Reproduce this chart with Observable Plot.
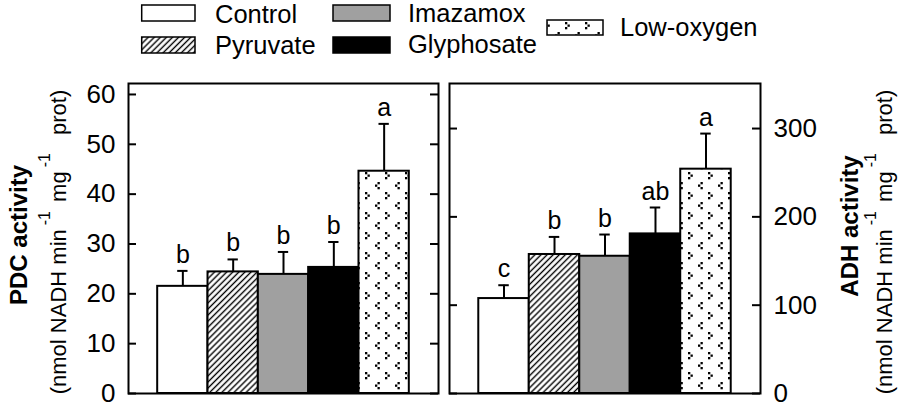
<!DOCTYPE html>
<html><head><meta charset="utf-8">
<script src="https://cdn.jsdelivr.net/npm/d3@7"></script>
<script src="https://cdn.jsdelivr.net/npm/@observablehq/plot@0.6"></script>
<style>
body{margin:0;background:#fff;}
#wrap{position:relative;width:898px;height:406px;overflow:hidden;font-family:"Liberation Sans",Arial,sans-serif;background:#fff;}
#wrap > svg{position:absolute;}
</style></head><body><div id="wrap"></div>
<script>
const categories = ["Control","Pyruvate","Imazamox","Glyphosate","Low-oxygen"];
const pdcMean = [21.5, 24.4, 23.9, 25.3, 44.6];
const pdcSE = [3.1, 2.5, 4.5, 5.1, 9.5];
const pdcLetters = ["b","b","b","b","a"];
const adhMean = [107.5, 157.4, 155.4, 180.7, 254];
const adhSE = [15.1, 19.9, 24.6, 29.9, 40.3];
const adhLetters = ["c","b","b","ab","a"];
const fills = ["white","url(#hatch)","#a0a0a0","black","url(#dots)"];
const pdcTicks = [0,10,20,30,40,50,60];
const adhTicks = [0,100,200,300];

const wrap = document.getElementById("wrap");
const FONT = '"Liberation Sans", Arial, sans-serif';

// pattern definitions
wrap.insertAdjacentHTML("beforeend", `<svg width="0" height="0" style="left:0;top:0"><defs>
<pattern id="hatch" patternUnits="userSpaceOnUse" width="4.3" height="10" patternTransform="rotate(45)">
<rect width="4.3" height="10" fill="white"/><line x1="2.15" y1="-1" x2="2.15" y2="11" stroke="black" stroke-width="1.4"/></pattern>
<pattern id="dots" patternUnits="userSpaceOnUse" width="20" height="20">
<rect width="20" height="20" fill="white"/>
<g fill="black">
<rect x="5" y="2" width="2.3" height="2.3"/><rect x="7.5" y="4.5" width="2.3" height="2.3"/><rect x="5" y="7" width="2.3" height="2.3"/>
<rect x="17.5" y="12" width="2.3" height="2.3"/><rect x="15" y="14.5" width="2.3" height="2.3"/><rect x="17.5" y="17" width="2.3" height="2.3"/>
</g></pattern></defs></svg>`);

function makeData(mean, se, letters) {
  return categories.map((c, i) => ({cat: c, mean: mean[i], top: mean[i] + se[i], letter: letters[i], fill: fills[i]}));
}

function panel(data, o) {
  const inner = o.width - o.marginLeft - o.marginRight;
  return Plot.plot({
    width: o.width, height: 336,
    marginLeft: o.marginLeft, marginRight: o.marginRight, marginTop: 13, marginBottom: 13,
    x: {domain: categories, paddingInner: 0, paddingOuter: 0.58, round: false, axis: null},
    y: {domain: o.domain, axis: null},
    color: {type: "identity"},
    style: {fontFamily: FONT, fontSize: "26px", color: "black", background: "transparent", overflow: "visible"},
    marks: [
      Plot.barY(data, {x: "cat", y: "mean", fill: "fill", stroke: "black", strokeWidth: 2}),
      Plot.ruleX(data, {x: "cat", y1: "mean", y2: "top", stroke: "black", strokeWidth: 2}),
      Plot.tickY(data, {x: "cat", y: "top", stroke: "black", strokeWidth: 2, insetLeft: 20, insetRight: 20}),
      Plot.text(data, {x: "cat", y: "top", text: "letter", dy: -8, lineAnchor: "bottom", fontSize: 25, fill: "black"}),
      Plot.ruleY(o.ticks, {y: d => d, insetRight: inner - 8, stroke: "black", strokeWidth: 2}),
      Plot.ruleY(o.ticks, {y: d => d, insetLeft: inner - 8, stroke: "black", strokeWidth: 2}),
      Plot.axisY({ticks: o.ticks, anchor: o.anchor, tickSize: 0, tickPadding: 13, fontSize: 26, label: null, fill: "black"}),
      Plot.frame({stroke: "black", strokeWidth: 2})
    ]
  });
}

const p1 = panel(makeData(pdcMean, pdcSE, pdcLetters), {width: 443, marginLeft: 128, marginRight: 5, domain: [0, 62.2], ticks: pdcTicks, anchor: "left"});
p1.style.left = "0px"; p1.style.top = "70px"; p1.style.position = "absolute";
wrap.appendChild(p1);
const p2 = panel(makeData(adhMean, adhSE, adhLetters), {width: 455, marginLeft: 6, marginRight: 138, domain: [0, 351], ticks: adhTicks, anchor: "right"});
p2.style.left = "443px"; p2.style.top = "70px"; p2.style.position = "absolute";
wrap.appendChild(p2);

// legend + axis titles overlay
const legendPos = [
  {x: 141.7, y: 5, w: 53.3, h: 16, tx: 215, ty: 23},
  {x: 141.7, y: 37, w: 53.3, h: 16, tx: 215, ty: 54},
  {x: 333, y: 5, w: 57, h: 16, tx: 408, ty: 22},
  {x: 333, y: 37, w: 57, h: 16, tx: 408, ty: 53},
  {x: 547, y: 20, w: 56, h: 15, tx: 620, ty: 36}
];
let ov = `<svg width="898" height="406" style="left:0;top:0;pointer-events:none" font-family='${FONT}'>`;
categories.forEach((c, i) => {
  const p = legendPos[i];
  ov += `<rect x="${p.x}" y="${p.y}" width="${p.w}" height="${p.h}" fill="${fills[i]}" stroke="black" stroke-width="1.5"/>`;
  ov += `<text x="${p.tx}" y="${p.ty}" font-size="25.5" fill="black">${c}</text>`;
});
function unitTitle(x, y) {
  return `<text transform="translate(${x},${y}) rotate(-90)" text-anchor="middle" font-size="22" fill="black">(nmol NADH min<tspan dx="4" dy="-16" font-size="16">-1</tspan><tspan dx="3" dy="16"> mg</tspan><tspan dx="4" dy="-16" font-size="16">-1</tspan><tspan dx="12" dy="16"> prot)</tspan></text>`;
}
ov += `<text transform="translate(27,235) rotate(-90)" text-anchor="middle" font-size="24" font-weight="bold" fill="black">PDC activity</text>`;
ov += unitTitle(66, 242);
ov += `<text transform="translate(858,226) rotate(-90)" text-anchor="middle" font-size="24" font-weight="bold" fill="black">ADH activity</text>`;
ov += unitTitle(892, 242);
ov += `</svg>`;
wrap.insertAdjacentHTML("beforeend", ov);
</script></body></html>
